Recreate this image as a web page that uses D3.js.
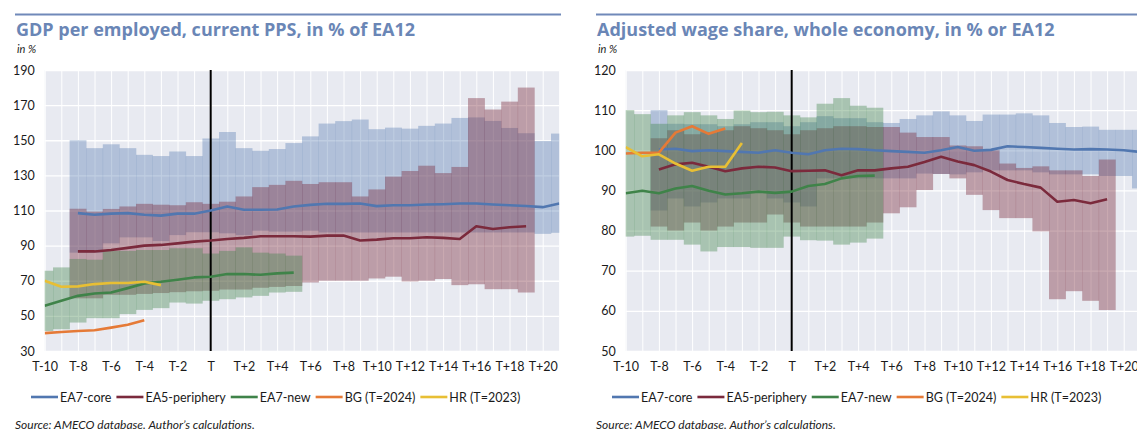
<!DOCTYPE html>
<html>
<head>
<meta charset="utf-8">
<script src="https://cdn.jsdelivr.net/npm/d3@7"></script>
<style>
  body { margin: 0; background: #fff; }
  svg { display: block; font-family: Lato, "Open Sans", sans-serif; }
</style>
</head>
<body>
<div id="chart"></div>
<script>
// periods T-10 ... T+21
const periods = d3.range(-10, 22).map(k => k === 0 ? "T" : (k < 0 ? "T" + k : "T+" + k));
const seriesNames = ["EA7-core", "EA5-periphery", "EA7-new", "BG (T=2024)", "HR (T=2023)"];

// --- GDP per employed (left) ---
const gdpTicks = [30, 50, 70, 90, 110, 130, 150, 170, 190];
const gdpCoreMax = [null, null, 150, 145.5, 147.7, 145.5, 141.7, 141, 143.6, 141, 151, 154.7, 145.5, 144, 145, 148.4, 152.2, 159.5, 160.9, 161.8, 156.3, 157.2, 156.6, 158.2, 159.5, 162.7, 163, 161, 157, 154, 149.6, 153.8];
const gdpCoreMin = [null, null, 86, 86, 91.3, 94.7, 94.7, 92.6, 96, 97.6, 97.6, 97, 96, 98.5, 98, 98, 98.5, 97.5, 97.5, 97.5, 97.5, 97.5, 97.5, 97.5, 97.5, 97.5, 97.5, 97.5, 97.5, 97.5, 96.7, 97.3];
const gdpPeriMax = [null, null, 111, 109.4, 110.9, 112.3, 113.8, 113.3, 113, 114.7, 113.8, 115, 118, 123.3, 124.6, 126.9, 125.1, 126.1, 126.1, 118, 122, 129.3, 132.5, 135.5, 131.3, 134.8, 174, 167.5, 172, 180, null, null];
const gdpPeriMin = [null, null, 60, 60, 62, 62, 62.5, 63, 63.5, 64, 64.3, 65, 65, 66, 66.5, 67, 69, 70, 70, 70, 71.3, 72.3, 69.6, 70, 71, 67.5, 68, 65.2, 65.2, 63.3, null, null];
const gdpNewMax = [75.7, 77.6, 82.4, 82, 87, 87, 87.5, 87.5, 88.5, 88.5, 85.5, 87, 89, 86, 85.5, 84.3];
const gdpNewMin = [41.4, 42.4, 46.2, 48.7, 48.7, 51, 53.4, 54.4, 57.6, 57, 58.6, 59.5, 60.5, 61.4, 63.3, 63.7];
const gdpCore = [null, null, 108.5, 107.6, 108.2, 108.5, 107.6, 107.1, 108.2, 108.2, 110, 112.3, 110.4, 110.4, 110.6, 112.3, 113.2, 113.8, 113.8, 114, 112.5, 113, 113, 113.4, 113.6, 114, 114, 113.4, 113, 112.6, 111.9, 114];
const gdpPeri = [null, null, 86.7, 86.7, 87.5, 88.7, 90, 90.4, 91.3, 92.3, 92.9, 93.8, 94.4, 95.3, 95.3, 95.3, 95.1, 95.7, 95.7, 92.9, 93.4, 94.2, 94.2, 94.8, 94.4, 93.8, 101, 99.5, 100.5, 101, null, null];
const gdpNew = [55.7, 58.6, 61.4, 62.7, 63.3, 65.8, 68.5, 69.4, 70.6, 71.9, 72.3, 73.8, 73.8, 73.4, 74.2, 74.6];
const gdpBG = [40.2, 40.8, 41.4, 41.8, 43.3, 44.9, 47.5];
const gdpHR = [70, 66.6, 66.8, 68.1, 68.7, 68.7, 69.4, 67.5];

// --- Adjusted wage share (right) ---
const wsTicks = [50, 60, 70, 80, 90, 100, 110, 120];
const wsCoreMax = [null, null, 110, 106.6, 106.5, 106.5, 106, 106.5, 107, 107, 106, 107, 108.5, 108, 108, 107, 106.8, 107.8, 108.7, 109.7, 108.7, 107.3, 108.9, 108.9, 109.2, 108.7, 106.8, 105.8, 105.9, 105.1, 105.1, 105.1];
const wsCoreMin = [null, null, 85, 88, 86, 87, 88, 88, 90, 88, 87, 86, 93, 93, 93, 93, 93, 93, 94.2, 94.1, 94, 94.5, 95, 95, 95, 94.5, 94, 94, 94, 93.6, 93.6, 90.5];
const wsPeriMax = [null, null, 103, 105, 104, 104.5, 105, 106, 105.5, 105, 104, 105, 105.5, 106, 106, 105.8, 105.8, 104.4, 103.3, 103.3, 101.2, 101, 100, 96.7, 95.6, 96, 95, 95, 93.6, 97.7, null, null];
const wsPeriMin = [null, null, 81, 80, 82, 80, 81, 82, 82, 84, 82, 81, 81, 81, 81, 82, 84.3, 85.8, 90.1, 94.1, 93, 88.9, 85.1, 83.1, 83.1, 79.8, 62.9, 64.9, 62.5, 60.2, null, null];
const wsNewMax = [110, 109, 106.6, 108.7, 109.5, 108.7, 107.8, 109.9, 109.5, 109.6, 108.7, 108.2, 111.6, 113, 111.1, 110.6];
const wsNewMin = [78.5, 78.7, 77.7, 77.7, 76.5, 74.8, 75.9, 75.9, 75.7, 75.7, 78.5, 77.6, 77.5, 76.5, 77, 78];
const wsCore = [null, null, 100.2, 100.4, 99.8, 100, 99.8, 99.6, 99.4, 100, 99.4, 99, 100, 100.4, 100.3, 100, 99.8, 99.6, 99.4, 100, 100.8, 99.9, 100.1, 101, 100.8, 100.6, 100.4, 100.2, 100.3, 100.2, 100, 99.6];
const wsPeri = [null, null, 95.2, 96.5, 96.9, 95.9, 94.8, 95.5, 95.9, 95.7, 94.8, 94.9, 95, 93.8, 95, 95, 95.5, 95.9, 97.1, 98.4, 97.2, 96.3, 94.7, 92.6, 91.6, 90.7, 87.2, 87.6, 86.8, 87.8, null, null];
const wsNew = [89.3, 89.9, 89.3, 90.5, 91.1, 89.9, 89, 89.3, 89.7, 89.4, 89.7, 91.1, 91.6, 93, 93.6, 93.7];
const wsBG = [99.2, 99.4, 99.4, 104.4, 106, 104.1, 105.4];
const wsHR = [100.8, 98.5, 99, 96.7, 94.9, 95.9, 95.9, 101.8];

const lineColors = ["#5177b0", "#7b2a3c", "#3f8349", "#e57a37", "#e8bf34"];
const bandOpacity = [0.36, 0.4, 0.38];

const width = 1137, height = 432;
const svg = d3.select("#chart").append("svg")
    .attr("width", width)
    .attr("height", height);

function drawPanel(cfg) {
    const x0 = cfg.x0;
    const plotL = x0 + 29.7, plotW = 514.6, plotT = 70, plotB = 351;

    const g = svg.append("g");

    g.append("line")
        .attr("x1", x0).attr("x2", x0 + 546)
        .attr("y1", 14.5).attr("y2", 14.5)
        .attr("stroke", "#7089b9").attr("stroke-width", 2);

    g.append("text")
        .attr("x", x0 + 1).attr("y", 36)
        .attr("font-family", "'Open Sans', sans-serif")
        .attr("font-size", "18px").attr("font-weight", "bold")
        .attr("fill", "#6a86b6")
        .text(cfg.title);

    g.append("text")
        .attr("x", x0 + 2).attr("y", 53)
        .attr("font-size", "11px").attr("font-style", "italic")
        .attr("fill", "#222")
        .text("in %");

    const x = d3.scalePoint().domain(periods).range([plotL, plotL + plotW]);
    const step = x.step();
    const y = d3.scaleLinear().domain(cfg.yDomain).range([plotB, plotT]);

    g.append("rect")
        .attr("x", plotL).attr("y", plotT)
        .attr("width", plotW).attr("height", plotB - plotT)
        .attr("fill", "#e8eaf1");

    // grid
    g.append("g")
        .attr("transform", `translate(0,${plotB})`)
        .call(d3.axisBottom(x).tickSize(-(plotB - plotT)).tickFormat(""))
        .call(a => a.select(".domain").remove())
        .selectAll(".tick line").attr("stroke", "#fff").attr("stroke-width", 1);

    g.append("g")
        .attr("transform", `translate(${plotL},0)`)
        .call(d3.axisLeft(y).tickValues(cfg.ticks).tickSize(-plotW).tickFormat(""))
        .call(a => a.select(".domain").remove())
        .selectAll(".tick line").attr("stroke", "#fff").attr("stroke-width", 1.3);

    const clipId = "clip" + cfg.id;
    svg.append("clipPath").attr("id", clipId)
        .append("rect").attr("x", plotL).attr("y", plotT)
        .attr("width", plotW).attr("height", plotB - plotT);

    const plot = g.append("g").attr("clip-path", `url(#${clipId})`);

    // min-max bands as gapless columns, same hue as the line, transparent
    cfg.bands.forEach((b, si) => {
        const rows = periods.map((p, i) => ({ p, lo: b[1][i], hi: b[0][i] }))
            .filter(d => d.hi != null && d.lo != null);
        plot.append("g").selectAll("rect").data(rows).join("rect")
            .attr("x", d => x(d.p) - step / 2)
            .attr("width", step + 0.3)
            .attr("y", d => y(d.hi))
            .attr("height", d => y(d.lo) - y(d.hi))
            .attr("fill", lineColors[si])
            .attr("fill-opacity", bandOpacity[si]);
    });

    // T marker
    plot.append("line")
        .attr("x1", x("T")).attr("x2", x("T"))
        .attr("y1", plotT).attr("y2", plotB)
        .attr("stroke", "#000").attr("stroke-width", 2);

    const line = d3.line()
        .defined(d => d.v != null)
        .x(d => x(d.p))
        .y(d => y(d.v));

    cfg.lines.forEach((arr, si) => {
        const pts = arr.map((v, i) => ({ p: periods[i], v }));
        plot.append("path")
            .datum(pts)
            .attr("fill", "none")
            .attr("stroke", lineColors[si])
            .attr("stroke-width", 2.6)
            .attr("stroke-linejoin", "round")
            .attr("d", line);
    });

    // axes labels
    const yAxis = g.append("g")
        .attr("transform", `translate(${plotL},0)`)
        .call(d3.axisLeft(y).tickValues(cfg.ticks).tickSize(0).tickPadding(10));
    yAxis.select(".domain").remove();
    yAxis.selectAll("text").attr("font-size", "12.5px").attr("fill", "#1a1a1a")
        .attr("font-family", "Lato, 'Open Sans', sans-serif");

    const xAxis = g.append("g")
        .attr("transform", `translate(0,${plotB})`)
        .call(d3.axisBottom(x).tickSize(0).tickPadding(11)
            .tickValues(periods.filter((p, i) => i % 2 === 0 && i < 31)));
    xAxis.select(".domain").remove();
    xAxis.selectAll("text").attr("font-size", "12.5px").attr("fill", "#1a1a1a")
        .attr("font-family", "Lato, 'Open Sans', sans-serif");

    // legend
    const leg = g.append("g").attr("transform", "translate(0,397)");
    let lx = x0 + 16;
    seriesNames.forEach((name, i) => {
        leg.append("line")
            .attr("x1", lx).attr("x2", lx + 27)
            .attr("stroke", lineColors[i]).attr("stroke-width", 2.6);
        const t = leg.append("text")
            .attr("x", lx + 29).attr("y", 4.5)
            .attr("font-size", "12.5px").attr("fill", "#1a1a1a")
            .text(name);
        lx += 29 + t.node().getComputedTextLength() + 5;
    });

    g.append("text")
        .attr("x", x0).attr("y", 429)
        .attr("font-size", "12px").attr("font-style", "italic")
        .attr("fill", "#222")
        .text("Source: AMECO database. Author\u2019s calculations.");
}

drawPanel({
    id: "gdp", x0: 15,
    title: "GDP per employed, current PPS, in % of EA12",
    yDomain: [30, 190], ticks: gdpTicks,
    bands: [[gdpCoreMax, gdpCoreMin], [gdpPeriMax, gdpPeriMin], [gdpNewMax, gdpNewMin]],
    lines: [gdpCore, gdpPeri, gdpNew, gdpBG, gdpHR]
});

drawPanel({
    id: "ws", x0: 596,
    title: "Adjusted wage share, whole economy, in % or EA12",
    yDomain: [50, 120], ticks: wsTicks,
    bands: [[wsCoreMax, wsCoreMin], [wsPeriMax, wsPeriMin], [wsNewMax, wsNewMin]],
    lines: [wsCore, wsPeri, wsNew, wsBG, wsHR]
});
</script>
</body>
</html>
